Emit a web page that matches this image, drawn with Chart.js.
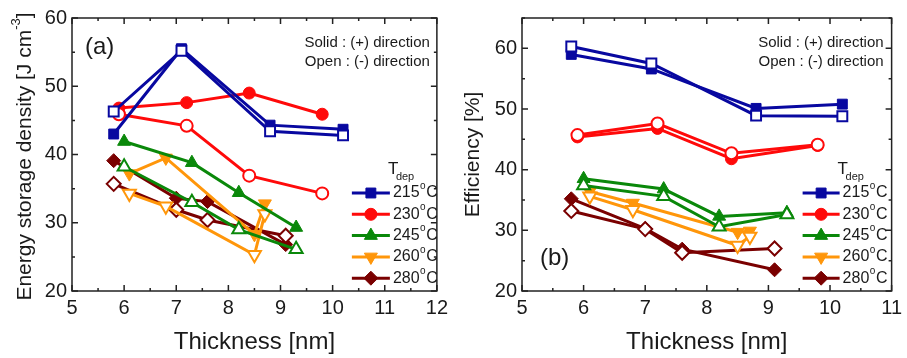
<!DOCTYPE html>
<html>
<head>
<meta charset="utf-8">
<script src="https://cdn.jsdelivr.net/npm/chart.js@4.4.1/dist/chart.umd.min.js"></script>
<style>
  html, body { margin: 0; padding: 0; background: #fff; }
  #wrap { position: relative; width: 907px; height: 358px; }
  canvas { position: absolute; top: 0; }
  #chartA { left: 0; }
  #chartB { left: 453px; }
</style>
</head>
<body>
<div id="wrap">
  <canvas id="chartA" width="453" height="358"></canvas>
  <canvas id="chartB" width="454" height="358"></canvas>
</div>
<script>
// deposition temperatures (legend)
const temps = ['215', '230', '245', '260', '280'];

// film thickness [nm] for each deposition temperature
const thick215 = [5.8, 7.1, 8.8, 10.2];
const thick230 = [5.9, 7.2, 8.4, 9.8];
const thick245 = [6.0, 7.3, 8.2, 9.3];
const thick260 = [6.1, 6.8, 8.5, 8.7];
const thick280 = [5.8, 7.0, 7.6, 9.1];

// (a) energy storage density [J cm-3], (+) = solid, (-) = open
const esd215Pos = [43.0, 55.5, 44.3, 43.7];
const esd215Neg = [46.3, 55.2, 43.4, 42.8];
const esd230Pos = [46.8, 47.6, 49.0, 45.9];
const esd230Neg = [45.9, 44.2, 36.9, 34.3];
const esd245Pos = [41.9, 38.8, 34.4, 29.3];
const esd245Neg = [38.2, 33.0, 29.0, 26.1];
const esd260Pos = [37.2, 39.5, 28.3, 32.8];
const esd260Neg = [34.3, 32.4, 25.3, 31.3];
const esd280Pos = [39.1, 33.6, 33.1, 26.8];
const esd280Neg = [35.7, 31.9, 30.4, 28.1];

// (b) efficiency [%]
const eff215Pos = [59.0, 56.6, 50.1, 50.8];
const eff215Neg = [60.3, 57.5, 48.9, 48.8];
const eff230Pos = [45.4, 46.8, 41.8, 44.0];
const eff230Neg = [45.7, 47.6, 42.7, 44.1];
const eff245Pos = [38.5, 36.8, 32.3, 32.9];
const eff245Neg = [37.4, 35.6, 30.6, 32.6];
const eff260Pos = [36.4, 34.5, 29.7, 29.9];
const eff260Neg = [35.6, 33.4, 27.5, 29.0];
const eff280Pos = [35.2, 30.3, 26.9, 23.5];
const eff280Neg = [33.2, 30.2, 26.3, 27.0];

// axis ticks
const xTicksA = [5, 6, 7, 8, 9, 10, 11, 12];
const xTicksB = [5, 6, 7, 8, 9, 10, 11];
const yTicksA = [20, 30, 40, 50, 60];
const yTicksB = [20, 30, 40, 50, 60];

const colors = ['#0808a0', '#ff0a0a', '#0a880a', '#ff960a', '#7a0000'];
const styles = [
    { pointStyle: 'rect', rotation: 0, radius: 7 },
    { pointStyle: 'circle', rotation: 0, radius: 6 },
    { pointStyle: 'triangle', rotation: 0, radius: 7.5 },
    { pointStyle: 'triangle', rotation: 180, radius: 7.5 },
    { pointStyle: 'rectRot', rotation: 0, radius: 7 }
];
const thicknesses = [thick215, thick230, thick245, thick260, thick280];
const TEXT = '#1a1a1a';
const FONT = '"Liberation Sans", Arial, sans-serif';

function makeSet(xs, ys, i, filled) {
    const c = colors[i];
    const s = styles[i];
    return {
        data: xs.map((x, k) => ({ x, y: ys[k] })),
        borderColor: c,
        backgroundColor: c,
        borderWidth: 3,
        tension: 0,
        pointStyle: s.pointStyle,
        rotation: s.rotation,
        pointRadius: s.radius,
        pointHoverRadius: s.radius,
        pointBackgroundColor: filled ? c : '#ffffff',
        pointBorderColor: c,
        pointBorderWidth: filled ? 1 : 2
    };
}

function buildSets(posArr, negArr) {
    const sets = [];
    for (let i = 0; i < temps.length; i++) {
        sets.push(makeSet(thicknesses[i], negArr[i], i, false));
        sets.push(makeSet(thicknesses[i], posArr[i], i, true));
    }
    return sets;
}

// frame with inward ticks on all four sides
const framePlugin = {
    id: 'frame',
    afterDatasetsDraw(chart) {
        const { ctx, chartArea: a, scales } = chart;
        const x = scales.x, y = scales.y;
        ctx.save();
        ctx.strokeStyle = '#222';
        ctx.lineWidth = 1.5;
        ctx.strokeRect(a.left, a.top, a.right - a.left, a.bottom - a.top);
        ctx.beginPath();
        for (let v = x.min; v <= x.max + 1e-9; v += 0.5) {
            const px = x.getPixelForValue(v);
            const len = Number.isInteger(v) ? 6 : 3;
            ctx.moveTo(px, a.bottom); ctx.lineTo(px, a.bottom - len);
            ctx.moveTo(px, a.top); ctx.lineTo(px, a.top + len);
        }
        for (let v = y.min; v <= y.max + 1e-9; v += 5) {
            const py = y.getPixelForValue(v);
            const len = v % 10 === 0 ? 6 : 3;
            ctx.moveTo(a.left, py); ctx.lineTo(a.left + len, py);
            ctx.moveTo(a.right, py); ctx.lineTo(a.right - len, py);
        }
        ctx.stroke();
        ctx.restore();
    }
};

// titles, notes, panel label and legend
const textPlugin = {
    id: 'texts',
    afterDraw(chart, args, o) {
        const { ctx, chartArea: a } = chart;
        ctx.save();
        ctx.fillStyle = TEXT;

        // x title
        ctx.font = '24px ' + FONT;
        ctx.textAlign = 'center';
        ctx.textBaseline = 'middle';
        ctx.fillText('Thickness [nm]', (a.left + a.right) / 2, 342);

        // y title (rotated, with optional superscript)
        ctx.save();
        ctx.translate(o.yTitleX, (a.top + a.bottom) / 2 + o.yTitleShift);
        ctx.rotate(-Math.PI / 2);
        ctx.textAlign = 'left';
        ctx.textBaseline = 'middle';
        ctx.font = '21px ' + FONT;
        const w1 = ctx.measureText(o.yTitle).width;
        let w2 = 0, w3 = 0;
        if (o.yTitleSup) {
            ctx.font = '13px ' + FONT;
            w2 = ctx.measureText(o.yTitleSup).width;
            ctx.font = '21px ' + FONT;
            w3 = ctx.measureText(o.yTitleEnd).width;
        }
        let sx = -(w1 + w2 + w3) / 2;
        ctx.fillText(o.yTitle, sx, 0);
        if (o.yTitleSup) {
            sx += w1;
            ctx.font = '13px ' + FONT;
            ctx.fillText(o.yTitleSup, sx, -9);
            sx += w2;
            ctx.font = '21px ' + FONT;
            ctx.fillText(o.yTitleEnd, sx, 0);
        }
        ctx.restore();

        // panel label
        ctx.font = '24px ' + FONT;
        ctx.textAlign = 'left';
        ctx.textBaseline = 'middle';
        ctx.fillText(o.panel, a.left + o.panelDx, o.panelY);

        // direction notes
        ctx.font = '15px ' + FONT;
        ctx.textAlign = 'right';
        ctx.fillText('Solid : (+) direction', a.right - o.noteDx, 43);
        ctx.fillText('Open : (-) direction', a.right - o.noteDx, 62);

        // legend
        const lx0 = a.right - o.legLine, lx1 = a.right - o.legText - 3;
        ctx.textAlign = 'left';
        ctx.textBaseline = 'alphabetic';
        ctx.font = '17px ' + FONT;
        ctx.fillText('T', a.right - o.legText - 5, 174);
        ctx.font = '11px ' + FONT;
        ctx.fillText('dep', a.right - o.legText + 3, 180);
        temps.forEach((t, i) => {
            const ly = 193 + i * 21.3;
            ctx.strokeStyle = colors[i];
            ctx.fillStyle = colors[i];
            ctx.lineWidth = 3;
            ctx.beginPath();
            ctx.moveTo(lx0, ly); ctx.lineTo(lx1, ly);
            ctx.stroke();
            ctx.lineWidth = 1;
            Chart.helpers.drawPoint(ctx, {
                pointStyle: styles[i].pointStyle,
                rotation: styles[i].rotation,
                radius: styles[i].radius,
                borderWidth: 1
            }, (lx0 + lx1) / 2, ly);
            ctx.fillStyle = TEXT;
            ctx.textBaseline = 'middle';
            let tx = a.right - o.legText;
            ctx.font = '16px ' + FONT;
            ctx.fillText(t, tx, ly);
            tx += ctx.measureText(t).width;
            ctx.font = '10px ' + FONT;
            ctx.fillText('o', tx + 0.5, ly - 7);
            tx += ctx.measureText('o').width + 1;
            ctx.font = '16px ' + FONT;
            ctx.fillText('C', tx, ly);
        });
        ctx.restore();
    }
};

function makeChart(id, sets, cfg) {
    return new Chart(document.getElementById(id), {
        type: 'line',
        data: { datasets: sets },
        options: {
            responsive: false,
            animation: false,
            events: [],
            layout: { padding: { top: 18, right: cfg.padRight, left: 0, bottom: 0 } },
            plugins: {
                legend: { display: false },
                tooltip: { enabled: false },
                texts: cfg.texts
            },
            scales: {
                x: {
                    type: 'linear',
                    min: cfg.xTicks[0],
                    max: cfg.xTicks[cfg.xTicks.length - 1],
                    afterBuildTicks: s => { s.ticks = cfg.xTicks.map(v => ({ value: v })); },
                    afterFit: s => { s.height = 67; },
                    grid: { display: false, drawTicks: false },
                    border: { display: false },
                    ticks: { color: TEXT, padding: 5, font: { family: FONT, size: 20 } }
                },
                y: {
                    type: 'linear',
                    min: cfg.yMin,
                    max: cfg.yMax,
                    afterBuildTicks: s => { s.ticks = cfg.yTicks.map(v => ({ value: v })); },
                    afterFit: s => { s.width = cfg.yWidth; },
                    grid: { display: false, drawTicks: false },
                    border: { display: false },
                    ticks: { color: TEXT, padding: 5, font: { family: FONT, size: 20 } }
                }
            }
        },
        plugins: [framePlugin, textPlugin]
    });
}

makeChart('chartA',
    buildSets([esd215Pos, esd230Pos, esd245Pos, esd260Pos, esd280Pos],
              [esd215Neg, esd230Neg, esd245Neg, esd260Neg, esd280Neg]),
    {
        xTicks: xTicksA, yTicks: yTicksA, yMin: 20, yMax: 60,
        yWidth: 72, padRight: 11,
        texts: {
            yTitle: 'Energy storage density [J cm', yTitleSup: '-3', yTitleEnd: ']',
            yTitleX: 25, yTitleShift: 2,
            panel: '(a)', panelDx: 13, panelY: 47,
            noteDx: 7, legLine: 85, legText: 44
        }
    });

makeChart('chartB',
    buildSets([eff215Pos, eff230Pos, eff245Pos, eff260Pos, eff280Pos],
              [eff215Neg, eff230Neg, eff245Neg, eff260Neg, eff280Neg]),
    {
        xTicks: xTicksB, yTicks: yTicksB, yMin: 20, yMax: 65,
        yWidth: 69, padRight: 15,
        texts: {
            yTitle: 'Efficiency [%]', yTitleSup: '', yTitleEnd: '',
            yTitleX: 20, yTitleShift: 0,
            panel: '(b)', panelDx: 18, panelY: 258,
            noteDx: 8, legLine: 89, legText: 49
        }
    });
</script>
</body>
</html>
